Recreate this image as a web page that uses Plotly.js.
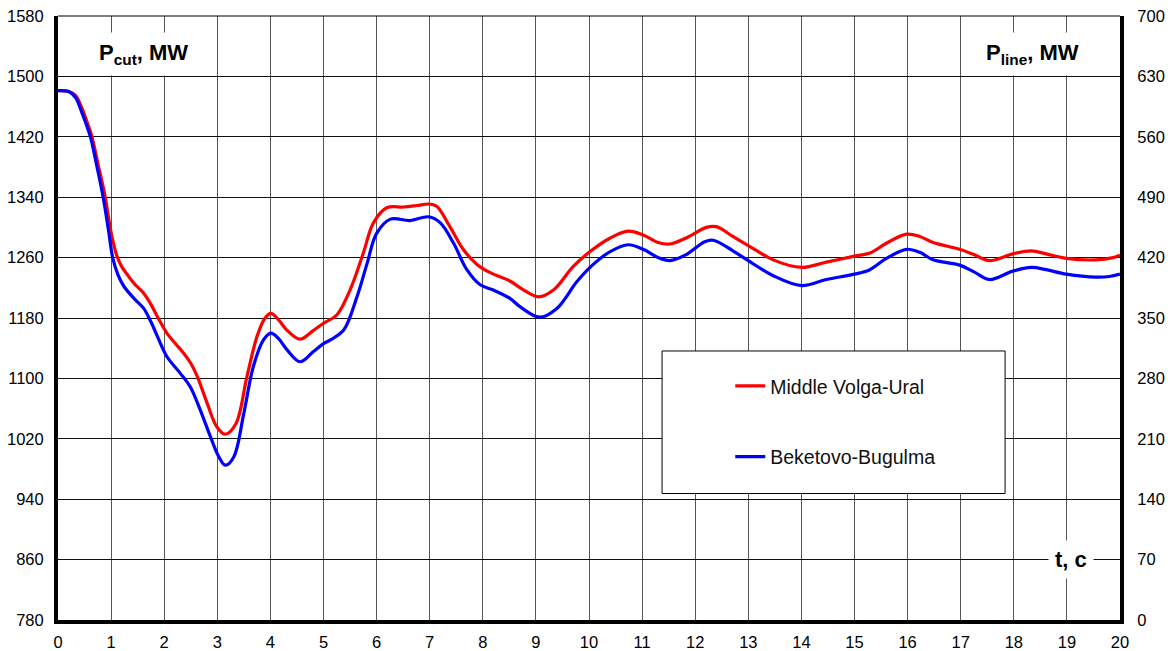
<!DOCTYPE html>
<html>
<head>
<meta charset="utf-8">
<script src="https://cdn.plot.ly/plotly-3.0.1.min.js"></script>
<style>html,body{margin:0;padding:0;background:#fff;}#chart{width:1168px;height:651px;}</style>
</head>
<body>
<div id="chart"></div>
<script>
// Middle Volga-Ural (left axis, Pcut, MW)
const redT = [0,0.2,0.33,0.45,0.57,0.64,0.75,0.89,1.0,1.11,1.2,1.3,1.43,1.61,1.75,1.87,2.05,2.2,2.37,2.5,2.62,2.81,2.99,3.15,3.35,3.56,3.75,3.9,4.01,4.15,4.31,4.56,4.8,5.0,5.25,5.5,5.75,5.94,6.19,6.51,6.76,6.98,7.13,7.38,7.63,7.89,8.14,8.51,8.75,9.05,9.33,9.7,10.02,10.4,10.74,11.02,11.3,11.52,11.83,12.21,12.4,12.71,13.0,13.47,14.0,14.47,15.0,15.29,15.6,15.98,16.23,16.48,16.98,17.25,17.54,17.98,18.33,18.61,18.99,19.55,19.87,20];
const redP = [1481,1480,1475,1458,1435,1420,1385,1340,1293,1262,1248,1238,1226,1213,1198,1182,1160,1147,1133,1120,1103,1067,1036,1026,1040,1103,1156,1180,1186,1178,1164,1152,1163,1173,1184,1217,1266,1306,1326,1327,1329,1331,1328,1301,1271,1251,1240,1229,1218,1208,1217,1248,1268,1286,1295,1290,1280,1278,1286,1300,1301,1288,1276,1257,1247,1254,1262,1266,1279,1291,1288,1280,1271,1264,1256,1265,1269,1265,1259,1257,1260,1263];
// Beketovo-Bugulma (right axis, Pline, MW)
const blueT = [0,0.2,0.33,0.45,0.61,0.72,0.85,0.95,1.03,1.13,1.24,1.43,1.61,1.75,1.87,2.05,2.3,2.49,2.68,2.87,3.03,3.15,3.31,3.5,3.68,3.87,4.01,4.15,4.31,4.56,4.8,5.0,5.13,5.38,5.63,5.82,6.0,6.26,6.63,6.98,7.2,7.45,7.7,7.95,8.2,8.51,8.7,9.07,9.4,9.77,10.08,10.4,10.74,11.02,11.3,11.52,11.83,12.18,12.34,12.71,13.0,13.47,14.0,14.47,15.0,15.29,15.6,15.98,16.23,16.48,16.98,17.25,17.54,17.98,18.33,18.61,18.99,19.55,19.8,20];
const blueP = [613.4,612.5,605.5,588,560,529.4,490,452,420,399.9,386.8,372.8,361.4,345.6,329,305.4,286.1,270.4,243.3,212.6,189,179.4,189,239.8,294,324.6,332.5,326.4,313.3,299.3,310.6,320.3,324.6,336,374.5,413,448,464.6,462.9,467.3,460.3,436.6,406,388.5,382.4,372.8,363.1,350.9,361.4,392,412.1,427,434.9,429.6,420,416.5,423.5,438.4,440.1,427.9,416.5,399,387.6,394.6,400.8,406,419.1,429.6,426.1,417.4,411.3,403.4,394.6,404.3,408.6,406,400.8,397.3,398.1,400.8];
const seriesNames = ["Middle Volga-Ural", "Beketovo-Bugulma"];
const leftTicks = [780,860,940,1020,1100,1180,1260,1340,1420,1500,1580];
const rightTicks = [0,70,140,210,280,350,420,490,560,630,700];
const xTicks = [0,1,2,3,4,5,6,7,8,9,10,11,12,13,14,15,16,17,18,19,20];

const FONT = '"Liberation Sans", Arial, sans-serif';

const traces = [
  {x: redT, y: redP, name: seriesNames[0], type: 'scatter', mode: 'lines',
   line: {color: '#ff0000', width: 3.2, shape: 'spline', smoothing: 1}, yaxis: 'y', legend: 'legend'},
  {x: blueT, y: blueP, name: seriesNames[1], type: 'scatter', mode: 'lines',
   line: {color: '#0000ff', width: 3.2, shape: 'spline', smoothing: 1}, yaxis: 'y2', legend: 'legend2'}
];

const layout = {
  width: 1168, height: 651,
  margin: {l: 57.5, r: 48, t: 16, b: 31, pad: 0},
  paper_bgcolor: '#fff', plot_bgcolor: '#fff',
  font: {family: FONT, size: 16.5, color: '#000'},
  xaxis: {range: [0, 20], tickvals: xTicks, ticktext: xTicks.map(String),
    showgrid: true, gridcolor: '#555', gridwidth: 1, zeroline: false,
    showline: true, linecolor: '#000', linewidth: 4, ticks: '', ticklabelstandoff: 4,
    tickfont: {family: FONT, size: 16.5, color: '#000'}},
  yaxis: {range: [780, 1580], tickvals: leftTicks, ticktext: leftTicks.map(String),
    showgrid: true, gridcolor: '#111', gridwidth: 1, zeroline: false,
    showline: true, linecolor: '#000', linewidth: 4, ticks: '', ticklabelstandoff: 7,
    tickfont: {family: FONT, size: 16.5, color: '#000'}},
  yaxis2: {range: [0, 700], tickvals: rightTicks, ticktext: rightTicks.map(String),
    overlaying: 'y', side: 'right', showgrid: false, zeroline: false,
    showline: true, linecolor: '#000', linewidth: 4, ticks: '', ticklabelstandoff: 10,
    tickfont: {family: FONT, size: 16.5, color: '#000'}},
  showlegend: true,
  legend: {x: 0.633, y: 0.387, xanchor: 'left', yanchor: 'middle', bgcolor: 'rgba(0,0,0,0)',
    borderwidth: 0, font: {family: FONT, size: 19.5, color: '#111'}},
  legend2: {x: 0.633, y: 0.27, xanchor: 'left', yanchor: 'middle', bgcolor: 'rgba(0,0,0,0)',
    borderwidth: 0, font: {family: FONT, size: 19.5, color: '#111'}},
  shapes: [
    {type: 'line', xref: 'paper', yref: 'paper', x0: 0, x1: 1, y0: 1, y1: 1,
     line: {color: '#000', width: 1.2}, layer: 'above'},
    {type: 'rect', xref: 'paper', yref: 'paper', x0: 0.5688, x1: 0.8918, y0: 0.2094, y1: 0.4454,
     fillcolor: '#fff', opacity: 1, line: {color: '#000', width: 1}, layer: 'above'}
  ],
  annotations: [
    {xref: 'paper', yref: 'paper', x: 0.0804, y: 0.937, xanchor: 'center', yanchor: 'middle',
     text: '<b>P<sub>cut</sub>, MW</b>', showarrow: false, bgcolor: '#fff', borderpad: 7,
     font: {family: FONT, size: 22, color: '#000'}},
    {xref: 'paper', yref: 'paper', x: 0.918, y: 0.937, xanchor: 'center', yanchor: 'middle',
     text: '<b>P<sub>line</sub>, MW</b>', showarrow: false, bgcolor: '#fff', borderpad: 7,
     font: {family: FONT, size: 22, color: '#000'}},
    {xref: 'paper', yref: 'paper', x: 0.9538, y: 0.1, xanchor: 'center', yanchor: 'middle',
     text: '<b>t, c</b>', showarrow: false, bgcolor: '#fff', borderpad: 6,
     font: {family: FONT, size: 22, color: '#000'}}
  ]
};

Plotly.newPlot('chart', traces, layout, {displayModeBar: false, staticPlot: true});
</script>
</body>
</html>
